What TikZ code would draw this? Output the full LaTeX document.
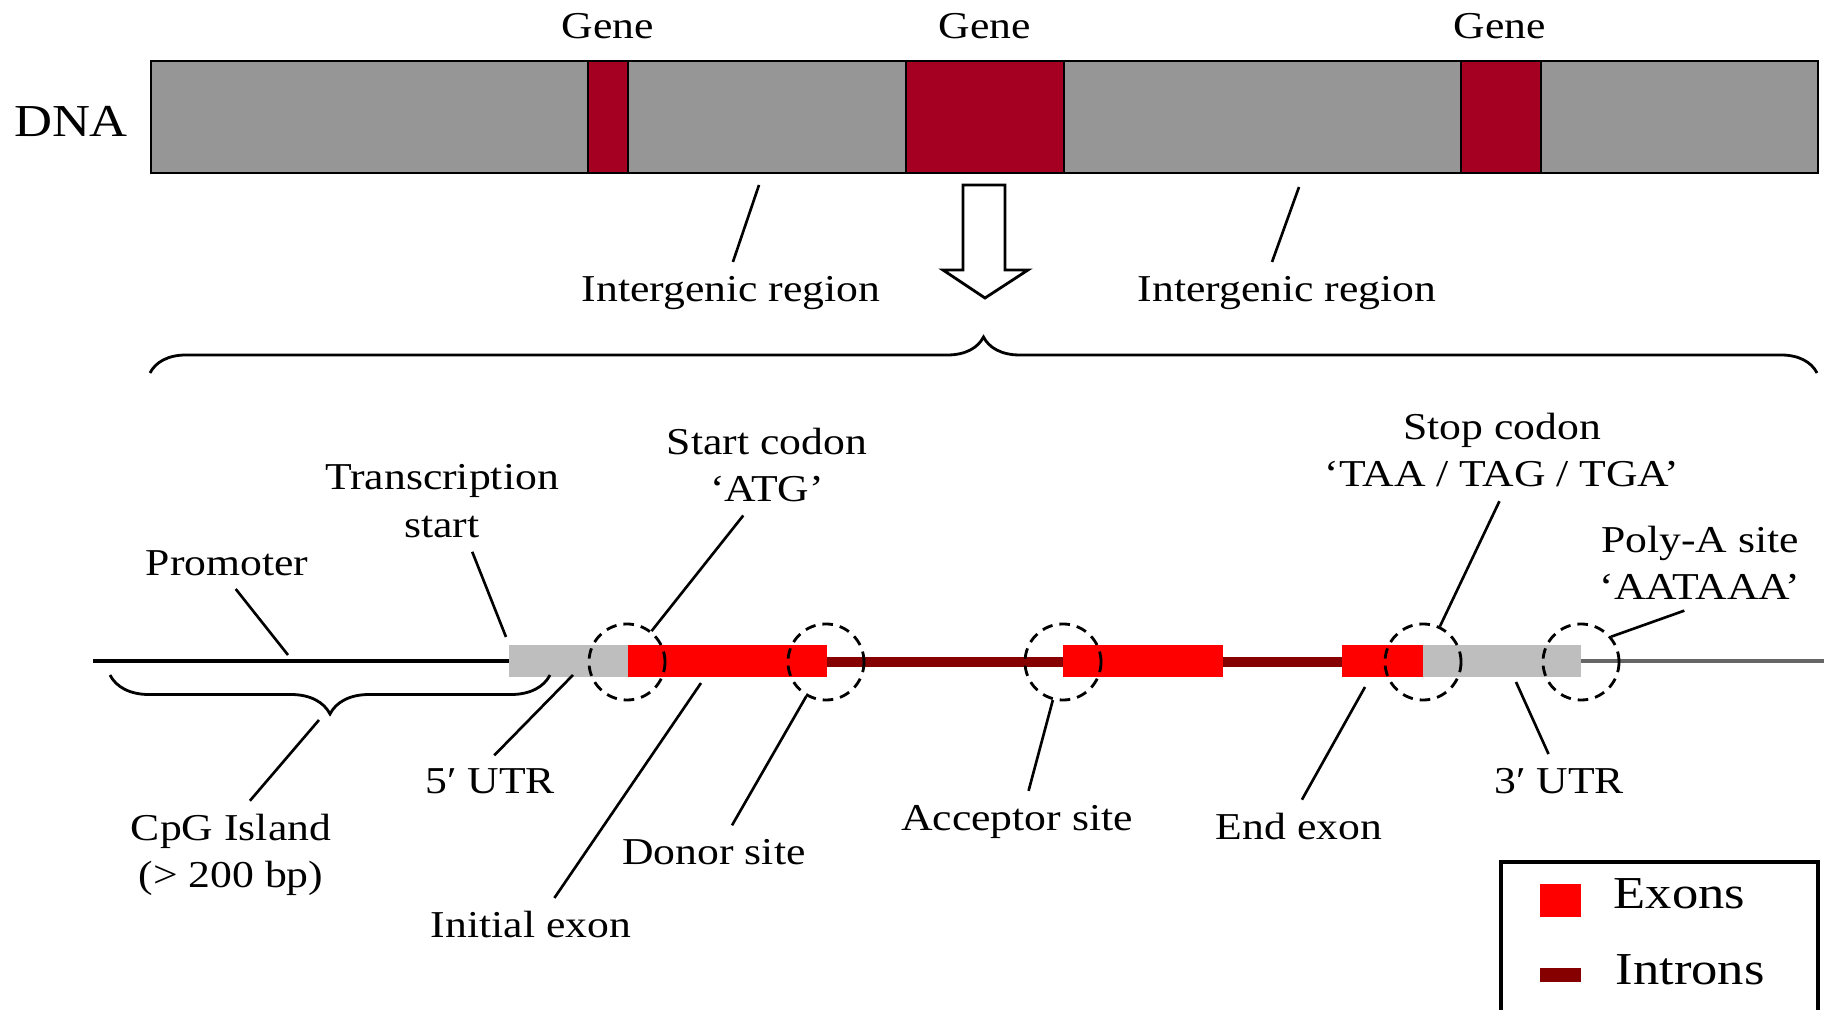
\documentclass[tikz,border=0pt]{standalone}
\usepackage{fontspec}
\setmainfont{Liberation Serif}[FakeStretch=1.15]
\usetikzlibrary{decorations.pathreplacing}

\definecolor{dnagray}{RGB}{150,150,150}
\definecolor{genered}{RGB}{165,0,33}
\definecolor{exonred}{RGB}{255,0,0}
\definecolor{intronred}{RGB}{135,0,0}
\definecolor{utrgray}{RGB}{190,190,190}

\begin{document}
\begin{tikzpicture}[
        x=0.01cm, y=-0.01cm,
        lbl/.style={font=\fontsize{10.8}{13.5}\selectfont, align=center, inner sep=0.08cm},
        biglbl/.style={font=\fontsize{13}{15}\selectfont, inner sep=0pt},
        leader/.style={line width=0.75pt, shorten <=0.06cm},
        site/.style={circle, draw, dash pattern=on 3pt off 2pt, line width=0.8pt, minimum size=0.76cm, inner sep=0pt},
        region/.style={draw, line width=0.8pt},
        bracestyle/.style={decorate, line width=0.8pt}
    ]
    \useasboundingbox (0,0) rectangle (1824,1010);

    % DNA strand with genes
    \filldraw[region, fill=dnagray] (151,61) rectangle (1818,173);
    \filldraw[region, fill=genered] (588,61) rectangle (628,173);
    \filldraw[region, fill=genered] (906,61) rectangle (1064,173);
    \filldraw[region, fill=genered] (1461,61) rectangle (1541,173);
    \node[biglbl] (dna) at (71,121) {DNA};
    \node[lbl] (gene1) at (608,26) {Gene};
    \node[lbl] (gene2) at (985,26) {Gene};
    \node[lbl] (gene3) at (1500,26) {Gene};

    % Intergenic regions
    \coordinate (ig1pt) at (759,185);
    \coordinate (ig2pt) at (1299,187);
    \node[lbl] (ig1) at (731,293) {Intergenic region};
    \node[lbl] (ig2) at (1287,293) {Intergenic region};
    \draw[leader] (ig1.north) -- (ig1pt);
    \draw[leader] ([xshift=-0.17cm]ig2.north) -- (ig2pt);

    % Zoom arrow and brace
    \draw[line width=0.8pt, fill=white] (963,185) -- (1005,185) -- (1005,270) -- (1028,270)
        -- (985,298) -- (943,270) -- (963,270) -- cycle;
    \draw[bracestyle, decoration={brace, amplitude=0.36cm}] (150,373) -- (1817,373);

    % Gene structure
    \draw[line width=1.1pt] (93,661) -- (509,661);
    \draw[line width=1.1pt, black!60] (1581,661) -- (1824,661);
    \draw[line width=3pt, intronred] (827,662) -- (1342,662);
    \fill[utrgray] (509,645) rectangle (628,677);
    \fill[utrgray] (1423,645) rectangle (1581,677);
    \fill[exonred] (628,645) rectangle (827,677);
    \fill[exonred] (1063,645) rectangle (1223,677);
    \fill[exonred] (1342,645) rectangle (1423,677);
    \draw[bracestyle, decoration={brace, amplitude=0.39cm, mirror}] (110,675) -- (550,675);

    % Sites
    \node[site] (startc) at (627,662) {};
    \node[site] (donorc) at (826,662) {};
    \node[site] (accc) at (1063,662) {};
    \node[site] (stopc) at (1423,662) {};
    \node[site] (polyc) at (1581,662) {};

    % Labels above
    \coordinate (prompt) at (288,655);
    \coordinate (tsspt) at (506,637);
    \node[lbl] (promoter) at (227,563) {Promoter};
    \node[lbl] (tss) at (442,501) {Transcription\\start};
    \node[lbl] (startcod) at (767,465) {Start codon\\‘ATG’};
    \node[lbl] (stopcod) at (1502,450) {Stop codon\\‘TAA / TAG / TGA’};
    \node[lbl] (polya) at (1700,563) {Poly-A site\\‘AATAAA’};
    \draw[leader] ([xshift=0.05cm]promoter.south) -- (prompt);
    \draw[leader] ([xshift=0.28cm]tss.south) -- (tsspt);
    \draw[leader] ([xshift=-0.2cm]startcod.south) -- (startc);
    \draw[leader] (stopcod.south) -- (stopc);
    \draw[leader] ([xshift=-0.1cm]polya.south) -- (polyc.40);

    % Labels below
    \coordinate (cpgpt) at (319,720);
    \coordinate (utr5pt) at (573,675);
    \coordinate (initpt) at (701,683);
    \coordinate (endpt) at (1365,687);
    \coordinate (utr3pt) at (1516,682);
    \node[lbl] (cpg) at (231,855) {CpG Island\\(> 200 bp)};
    \node[lbl] (utr5) at (490,781) {5′ UTR};
    \node[lbl] (initex) at (531,925) {Initial exon};
    \node[lbl] (donor) at (714,852) {Donor site};
    \node[lbl] (acceptor) at (1017,822) {Acceptor site};
    \node[lbl] (endex) at (1299,827) {End exon};
    \node[lbl] (utr3) at (1559,781) {3′ UTR};
    \draw[leader] ([xshift=0.15cm]cpg.north) -- (cpgpt);
    \draw[leader] (utr5.north) -- (utr5pt);
    \draw[leader] ([xshift=0.2cm]initex.north) -- (initpt);
    \draw[leader] ([xshift=0.15cm]donor.north) -- (donorc);
    \draw[leader] ([xshift=0.1cm]acceptor.north) -- (accc);
    \draw[leader] (endex.north) -- (endpt);
    \draw[leader] ([xshift=-0.08cm]utr3.north) -- (utr3pt);

    % Legend
    \draw[line width=1pt] (1501,1010) |- (1818,862) -- (1818,1010);
    \fill[exonred] (1540,884) rectangle (1581,917);
    \fill[intronred] (1540,968) rectangle (1581,982);
    \node[biglbl, anchor=west] (exons) at (1613,894) {Exons};
    \node[biglbl, anchor=west] (introns) at (1615,970) {Introns};

\end{tikzpicture}
\end{document}
